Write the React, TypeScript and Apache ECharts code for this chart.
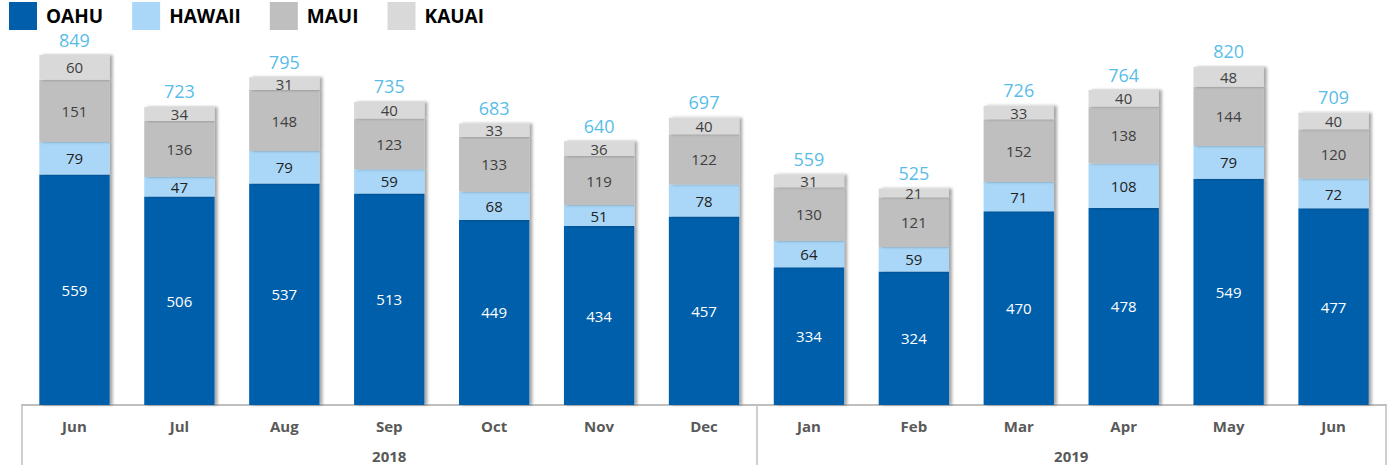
import React, { useEffect, useRef } from "react";
import * as echarts from "echarts";

const months = ["Jun", "Jul", "Aug", "Sep", "Oct", "Nov", "Dec", "Jan", "Feb", "Mar", "Apr", "May", "Jun"];
const yearSlots = ["", "", "", "", "", "", "", "2018", "", "", "", "", "", "", "", "", "", "", "", "", "2019", "", "", "", "", "", ""];
const oahu = [559, 506, 537, 513, 449, 434, 457, 334, 324, 470, 478, 549, 477];
const hawaii = [79, 47, 79, 59, 68, 51, 78, 64, 59, 71, 108, 79, 72];
const maui = [151, 136, 148, 123, 133, 119, 122, 130, 121, 152, 138, 144, 120];
const kauai = [60, 34, 31, 40, 33, 36, 40, 31, 21, 33, 40, 48, 40];
const totals = [849, 723, 795, 735, 683, 640, 697, 559, 525, 726, 764, 820, 709];

const FONT = "'Open Sans', 'Noto Sans', sans-serif";

function barSeries(name: string, data: number[], color: string, labelColor: string) {
  return {
    name,
    type: "bar",
    stack: "total",
    barWidth: "67%",
    data,
    itemStyle: {
      color,
      shadowColor: "rgba(0,0,0,0.35)",
      shadowBlur: 3,
      shadowOffsetX: 3,
      shadowOffsetY: 0,
    },
    label: {
      show: true,
      position: "inside",
      color: labelColor,
      fontSize: 15,
      fontFamily: FONT,
    },
  };
}

export default function App() {
  const ref = useRef<HTMLDivElement>(null);
  useEffect(() => {
    const chart = echarts.init(ref.current!, undefined, { renderer: "svg" });
    chart.setOption({
      animation: false,
      backgroundColor: "#ffffff",
      legend: {
        top: 2,
        left: 9,
        padding: 0,
        itemWidth: 28,
        itemHeight: 28,
        itemGap: 29,
        icon: "rect",
        data: ["OAHU", "HAWAII", "MAUI", "KAUAI"],
        textStyle: {
          fontSize: 19,
          lineHeight: 19,
          fontWeight: "bold",
          color: "#000",
          fontFamily: FONT,
          padding: [0, 0, 0, 4],
        },
      },
      grid: { left: 22, right: 3, top: 55, bottom: 60 },
      xAxis: [
        {
          type: "category",
          data: months,
          position: "bottom",
          axisLine: { show: true, lineStyle: { color: "#BFBFBF", width: 2 } },
          axisTick: { show: false },
          axisLabel: {
            color: "#595959",
            fontSize: 15,
            fontWeight: "bold",
            fontFamily: FONT,
            margin: 13,
            interval: 0,
          },
        },
        {
          type: "category",
          data: yearSlots,
          position: "bottom",
          boundaryGap: false,
          axisLine: { show: false },
          axisTick: {
            show: true,
            length: 60,
            interval: (i: number) => i === 0 || i === 14 || i === 26,
            lineStyle: { color: "#BFBFBF", width: 1.5 },
          },
          axisLabel: {
            color: "#595959",
            fontSize: 15,
            fontWeight: "bold",
            fontFamily: FONT,
            margin: 43,
            interval: 0,
          },
        },
      ],
      yAxis: { type: "value", min: 0, max: 849, show: false },
      series: [
        barSeries("OAHU", oahu, "#005EAB", "#ffffff"),
        barSeries("HAWAII", hawaii, "#AAD7F7", "#222222"),
        barSeries("MAUI", maui, "#BFBFBF", "#404040"),
        barSeries("KAUAI", kauai, "#D9D9D9", "#404040"),
        {
          name: "Total",
          type: "scatter",
          data: totals,
          symbolSize: 1,
          itemStyle: { color: "rgba(0,0,0,0)" },
          label: {
            show: true,
            position: "top",
            distance: 6,
            color: "#29ABE2",
            fontSize: 18,
            lineHeight: 18,
            fontFamily: FONT,
          },
        },
      ],
    });
    return () => chart.dispose();
  }, []);
  return <div ref={ref} style={{ width: 1389, height: 465, position: "absolute", left: 0, top: 0 }} />;
}
